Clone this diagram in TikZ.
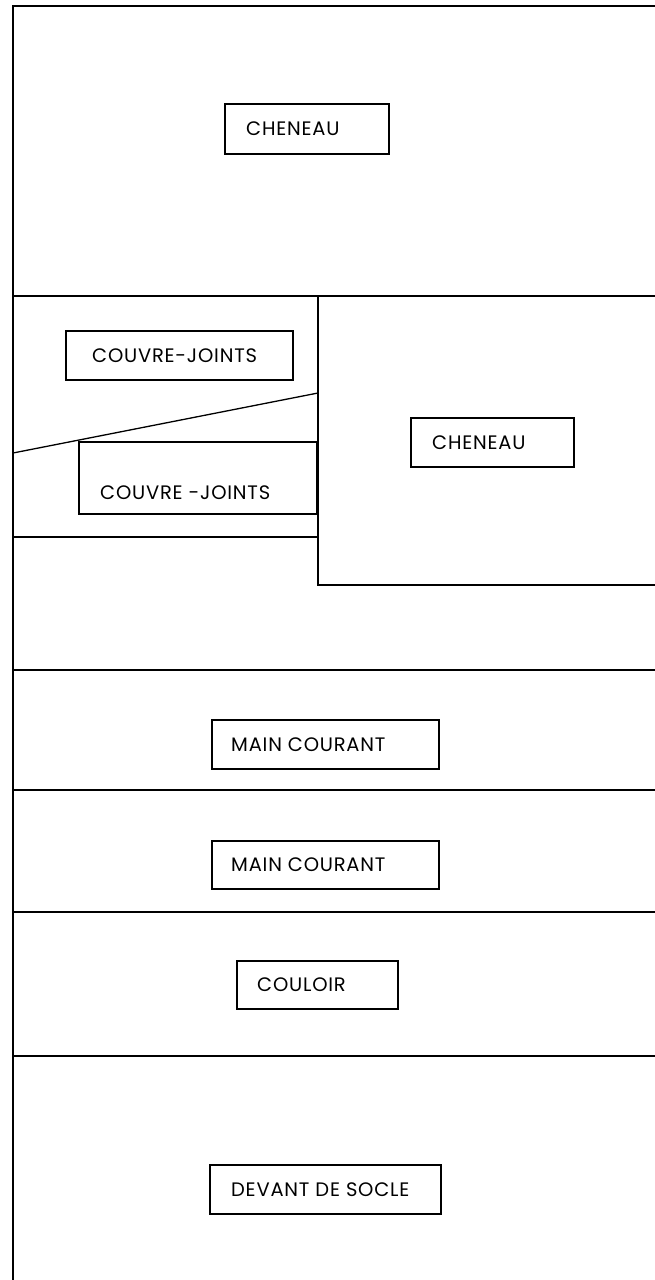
\documentclass[tikz,border=0pt]{standalone}
\usepackage{fontspec}
\setmainfont{Poppins}[LetterSpace=4]
\usetikzlibrary{calc}
\begin{document}
\begin{tikzpicture}[x=1pt,y=-1pt,
  wall/.style={line width=1.3pt},
  frame/.style={line width=2.4pt},
  box/.style={draw,line width=1.5pt,inner sep=0pt,anchor=north west},
  lbl/.style={anchor=west,inner sep=0pt,font=\fontsize{19.5}{21}\selectfont}]
\useasboundingbox (0,0) rectangle (655,1280);
% frame
\coordinate (tl) at (13,6);
\coordinate (tr) at (655,6);
\coordinate (bl) at (13,1280);
\draw[frame] (tr) -- (tl) -- (bl);
% horizontal separators
\coordinate (h1l) at (13,296); \coordinate (h1r) at (655,296);
\draw[wall] (h1l) -- (h1r);
\coordinate (vt) at (318,296); \coordinate (vb) at (318,585); \coordinate (vr) at (655,585);
\draw[wall] (vt) -- (vb) -- (vr);
\coordinate (dl) at (13,453); \coordinate (dr) at (318,393);
\draw[wall] (dl) -- (dr);
\coordinate (h2l) at (13,537); \coordinate (h2r) at (318,537);
\draw[wall] (h2l) -- (h2r);
\foreach \y/\n in {670/a,790/b,912/c,1056/d}{
  \coordinate (l\n) at (13,\y); \coordinate (r\n) at (655,\y);
  \draw[wall] (l\n) -- (r\n);
}
% boxes
\node[box,minimum width=164pt,minimum height=50pt] (b1) at (224,103) {};
\node[lbl] (t1) at ($(b1.west)+(22,0)$) {CHENEAU};
\node[box,minimum width=227pt,minimum height=49pt] (b2) at (65,330) {};
\node[lbl] (t2) at ($(b2.west)+(27,0)$) {COUVRE-JOINTS};
\node[box,minimum width=238pt,minimum height=72pt] (b3) at (78,441) {};
\node[lbl] (t3) at ($(b3.west)+(22,15)$) {COUVRE -JOINTS};
\node[box,minimum width=163pt,minimum height=49pt] (b4) at (410,417) {};
\node[lbl] (t4) at ($(b4.west)+(22,0)$) {CHENEAU};
\node[box,minimum width=227pt,minimum height=49pt] (b5) at (211,719) {};
\node[lbl] (t5) at ($(b5.west)+(20,0)$) {MAIN COURANT};
\node[box,minimum width=227pt,minimum height=48pt] (b6) at (211,840) {};
\node[lbl] (t6) at ($(b6.west)+(20,0)$) {MAIN COURANT};
\node[box,minimum width=161pt,minimum height=48pt] (b7) at (236,960) {};
\node[lbl] (t7) at ($(b7.west)+(21,0)$) {COULOIR};
\node[box,minimum width=231pt,minimum height=49pt] (b8) at (209,1164) {};
\node[lbl] (t8) at ($(b8.west)+(22,0)$) {DEVANT DE SOCLE};
\end{tikzpicture}
\end{document}
